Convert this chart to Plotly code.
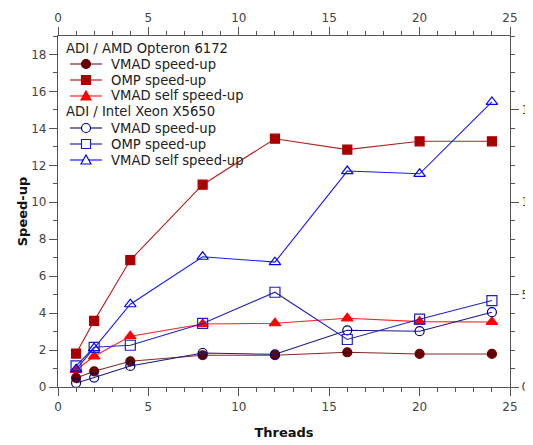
import plotly.graph_objects as go

threads = [1, 2, 4, 8, 12, 16, 20, 24]

amd_vmad = [0.49, 0.85, 1.39, 1.72, 1.72, 1.88, 1.79, 1.79]
amd_omp = [1.81, 3.58, 6.87, 10.95, 13.44, 12.85, 13.30, 13.30]
amd_self = [0.92, 1.66, 2.75, 3.41, 3.45, 3.72, 3.54, 3.52]

intel_vmad = [0.22, 0.51, 1.14, 1.84, 1.77, 3.07, 3.02, 4.05]
intel_omp = [1.14, 2.15, 2.26, 3.44, 5.13, 2.57, 3.67, 4.68]
intel_self = [0.96, 2.10, 4.48, 7.05, 6.76, 11.69, 11.54, 15.43]

group_titles = ["ADI / AMD Opteron 6172", "ADI / Intel Xeon X5650"]
series_names = ["VMAD speed-up", "OMP speed-up", "VMAD self speed-up"]

# (values, group index, symbol, marker colour, line colour, marker size, filled)
series = [
    (amd_vmad, 0, "circle", "#660000", "#7F2A2A", 9, True),
    (amd_omp, 0, "square", "#AA0000", "#B32020", 9, True),
    (amd_self, 0, "triangle-up", "#FF0000", "#FF2020", 10, True),
    (intel_vmad, 1, "circle", "#000080", "#1A1A80", 9, False),
    (intel_omp, 1, "square", "#1F1FC8", "#2424C0", 10, False),
    (intel_self, 1, "triangle-up", "#0000FF", "#1A1AFF", 10, False),
]

fig = go.Figure()
for i, (vals, g, sym, mcol, lcol, msize, filled) in enumerate(series):
    fig.add_trace(go.Scatter(
        x=threads, y=vals, name=series_names[i % 3], mode="lines+markers",
        showlegend=False,
        line=dict(color=lcol, width=1.1),
        marker=dict(symbol=sym if filled else sym + "-open", size=msize, color=mcol,
                    line=dict(color=mcol, width=1.2)),
    ))

# invisible trace to drive the secondary axes
fig.add_trace(go.Scatter(x=[0, 25], y=[0, 19], xaxis="x2", yaxis="y2",
                         mode="markers", marker=dict(opacity=0), showlegend=False, hoverinfo="skip"))

# ---- geometry (page body has an 8px margin) ----
OFF = 8
W, H = 533 - OFF, 445 - OFF
L, R, T, B = 58 - OFF, 23, 36 - OFF, 58
pw, ph = W - L - R, H - T - B


def px(xs):
    """screen x pixel -> paper"""
    return (xs - OFF - L) / pw


def py(ys):
    """screen y pixel -> paper"""
    return (H - B - (ys - OFF)) / ph


shapes = []
annotations = []
row_y = 48
row_h = 16
leg_font = dict(family="DejaVu Sans", size=13.2, color="#222")
for g in range(2):
    annotations.append(dict(x=px(64), y=py(row_y), xref="paper", yref="paper", text=group_titles[g],
                            showarrow=False, xanchor="left", yanchor="middle", font=leg_font))
    row_y += row_h
    for k in range(3):
        vals, gg, sym, mcol, lcol, msize, filled = series[g * 3 + k]
        ax, ay = px(86), py(row_y)
        shapes.append(dict(type="line", xref="paper", yref="paper", x0=px(70), x1=px(102),
                           y0=ay, y1=ay, line=dict(color=lcol, width=1.6), opacity=0.75))
        fill = mcol if filled else "white"
        r = 4.5
        if sym == "circle":
            shapes.append(dict(type="circle", xref="paper", yref="paper", xsizemode="pixel",
                               ysizemode="pixel", xanchor=ax, yanchor=ay, x0=-r, x1=r, y0=-r, y1=r,
                               fillcolor=fill, line=dict(color=mcol, width=1.2)))
        elif sym == "square":
            shapes.append(dict(type="rect", xref="paper", yref="paper", xsizemode="pixel",
                               ysizemode="pixel", xanchor=ax, yanchor=ay, x0=-r, x1=r, y0=-r, y1=r,
                               fillcolor=fill, line=dict(color=mcol, width=1.2)))
        else:
            shapes.append(dict(type="path", xref="paper", yref="paper", xsizemode="pixel",
                               ysizemode="pixel", xanchor=ax, yanchor=ay,
                               path="M -5 -4 L 5 -4 L 0 5 Z",
                               fillcolor=fill, line=dict(color=mcol, width=1.2)))
        annotations.append(dict(x=px(109), y=py(row_y), xref="paper", yref="paper",
                                text=series_names[k], showarrow=False, xanchor="left",
                                yanchor="middle", font=leg_font))
        row_y += row_h

axis_common = dict(showline=True, linecolor="#555", linewidth=1.3, ticks="outside",
                   tickcolor="#555", tickwidth=1.3, ticklen=8, showgrid=False, zeroline=False,
                   automargin=False,
                   tickfont=dict(size=12, color="#444", family="DejaVu Sans"))
minor = dict(dtick=1, ticklen=4, ticks="outside", tickcolor="#555", tickwidth=1.2)

fig.update_layout(
    width=W, height=H,
    margin=dict(l=L, r=R, t=T, b=B),
    paper_bgcolor="white", plot_bgcolor="white",
    font=dict(family="DejaVu Sans", size=12, color="#222"),
    showlegend=False,
    shapes=shapes, annotations=annotations,
    xaxis=dict(range=[0, 25], dtick=5, tick0=0, minor=minor,
               title=dict(text="<b>Threads</b>", font=dict(size=13, color="#111"), standoff=15),
               **axis_common),
    yaxis=dict(range=[0, 19], dtick=2, tick0=0, minor=minor,
               title=dict(text="<b>Speed-up</b>", font=dict(size=13, color="#111"), standoff=0),
               **axis_common),
    xaxis2=dict(range=[0, 25], dtick=5, tick0=0, overlaying="x", side="top", anchor="y",
                minor=minor, **axis_common),
    yaxis2=dict(range=[0, 19], dtick=5, tick0=0, overlaying="y", side="right", anchor="x",
                minor=minor, **axis_common),
)

fig.write_html("out.html")
